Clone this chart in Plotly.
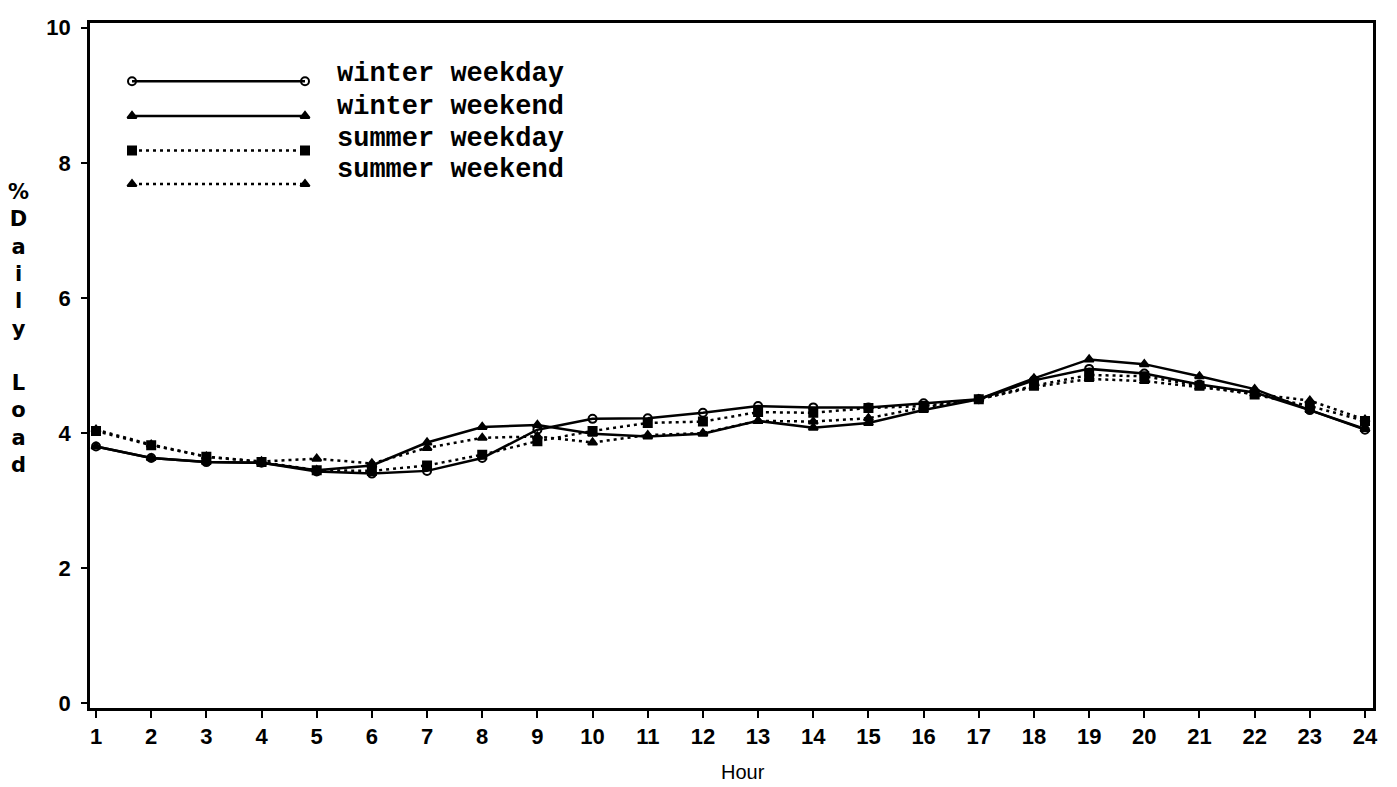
import plotly.graph_objects as go

hours = list(range(1, 25))

winter_weekday = [3.80, 3.63, 3.57, 3.56, 3.43, 3.40, 3.44, 3.63, 4.05, 4.21, 4.22, 4.30,
                  4.40, 4.38, 4.38, 4.44, 4.50, 4.78, 4.95, 4.88, 4.72, 4.60, 4.34, 4.05]
winter_weekend = [3.80, 3.63, 3.57, 3.56, 3.45, 3.52, 3.86, 4.09, 4.12, 3.99, 3.95, 3.99,
                  4.18, 4.08, 4.15, 4.34, 4.50, 4.81, 5.09, 5.02, 4.84, 4.65, 4.34, 4.06]
summer_weekday = [4.03, 3.82, 3.65, 3.57, 3.45, 3.44, 3.52, 3.68, 3.88, 4.03, 4.15, 4.17,
                  4.31, 4.30, 4.37, 4.40, 4.50, 4.70, 4.86, 4.84, 4.70, 4.57, 4.40, 4.18]
summer_weekend = [4.05, 3.83, 3.65, 3.58, 3.62, 3.55, 3.78, 3.93, 3.95, 3.86, 3.97, 4.00,
                  4.18, 4.17, 4.22, 4.38, 4.50, 4.68, 4.80, 4.77, 4.68, 4.58, 4.48, 4.20]

series_names = ["winter weekday", "winter weekend", "summer weekday", "summer weekend"]
series_values = [winter_weekday, winter_weekend, summer_weekday, summer_weekend]
series_dash = ["solid", "solid", "3px,4px", "3px,4px"]
series_symbol = ["circle-open", "triangle-up", "square", "triangle-up"]

y_ticks = [0, 2, 4, 6, 8, 10]

fig = go.Figure()

for name, vals, dash, sym in zip(series_names, series_values, series_dash, series_symbol):
    fig.add_trace(go.Scatter(
        x=hours, y=vals, mode="lines+markers", name=name,
        line=dict(color="black", width=2.5, dash=dash),
        marker=dict(symbol=sym, size=8, color="black", line=dict(color="black", width=2)),
        showlegend=False,
    ))

# Manual legend on an overlay axis measured in pixels of the plot area
leg_x0, leg_x1 = 132, 305
leg_line_y = [74, 109, 144, 178]
leg_text_y = [67, 100, 132, 164]
for name, dash, sym, ly, ty in zip(series_names, series_dash, series_symbol, leg_line_y, leg_text_y):
    fig.add_trace(go.Scatter(
        x=[leg_x0, leg_x1], y=[ly, ly], mode="lines+markers",
        line=dict(color="black", width=2.5, dash=dash),
        marker=dict(symbol=sym, size=8, color="black", line=dict(color="black", width=2)),
        xaxis="x2", yaxis="y2", showlegend=False, hoverinfo="skip",
    ))
    fig.add_annotation(
        x=335, y=ty, xref="x2", yref="y2", text=name, showarrow=False,
        xanchor="left", yanchor="middle",
        font=dict(family="Liberation Mono", size=27, color="black", weight="bold"),
    )

fig.add_annotation(
    x=-0.0561, y=0.554, xref="paper", yref="paper",
    text="%<br>D<br>a<br>i<br>l<br>y<br><br>L<br>o<br>a<br>d",
    showarrow=False, xanchor="center", yanchor="middle",
    font=dict(family="DejaVu Sans", size=21, color="black", weight="bold"),
)

fig.add_annotation(
    x=0.509, y=-0.094, xref="paper", yref="paper", text="Hour",
    showarrow=False, xanchor="center", yanchor="middle",
    font=dict(family="Liberation Sans", size=20, color="black"),
)

tickfont = dict(family="Liberation Sans", size=22, color="black", weight="bold")

fig.update_layout(
    width=1397, height=787,
    margin=dict(l=82, r=32, t=7, b=87),
    paper_bgcolor="white", plot_bgcolor="white",
    xaxis=dict(
        range=[0.891, 24.145], tickvals=hours, ticktext=[str(h) for h in hours],
        showgrid=False, zeroline=False, showline=True, linecolor="black", linewidth=2.5,
        mirror=True, ticks="outside", ticklen=7, tickwidth=2, tickcolor="black",
        tickfont=tickfont,
    ),
    yaxis=dict(
        range=[-0.07, 10.07], tickvals=y_ticks, ticktext=[str(v) for v in y_ticks],
        showgrid=False, zeroline=False, showline=True, linecolor="black", linewidth=2.5,
        mirror=True, ticks="outside", ticklen=6, tickwidth=2, tickcolor="black",
        tickfont=tickfont, ticklabelstandoff=6,
    ),
    xaxis2=dict(range=[90, 1373], overlaying="x", visible=False, fixedrange=True),
    yaxis2=dict(range=[708, 15], overlaying="y", visible=False, fixedrange=True),
)

fig.write_html("out.html")
